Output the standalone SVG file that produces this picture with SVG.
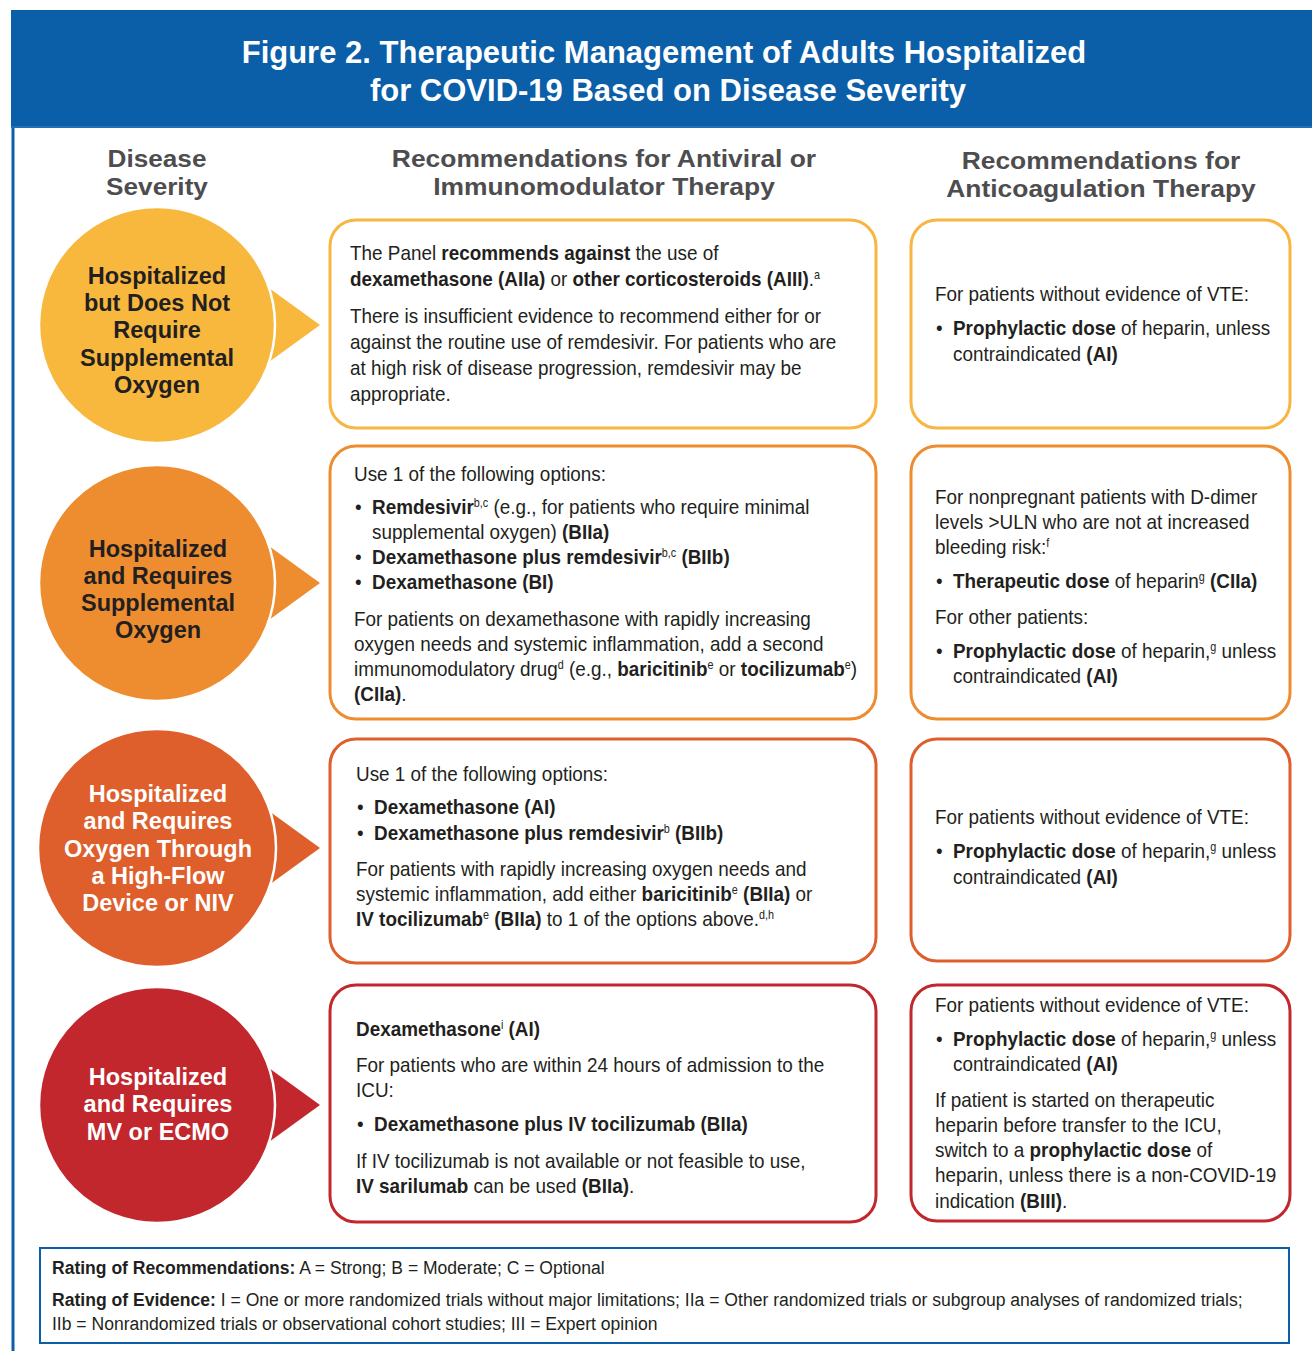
<svg xmlns="http://www.w3.org/2000/svg" width="1312" height="1351" viewBox="0 0 1312 1351">
<style>
.t{font-family:"Liberation Sans",Arial,Helvetica,sans-serif;font-size:21px;fill:#231f20}
.b{font-weight:bold}
.ct{font-family:"Liberation Sans",Arial,Helvetica,sans-serif;font-size:23.5px;font-weight:bold;text-anchor:middle}
.dk{fill:#231f20}
.wt{fill:#ffffff}
.ch{font-family:"Liberation Sans",Arial,Helvetica,sans-serif;font-size:24px;font-weight:bold;fill:#4d4d4f;text-anchor:middle}
.ttl{font-family:"Liberation Sans",Arial,Helvetica,sans-serif;font-size:31px;font-weight:bold;fill:#ffffff;text-anchor:middle}
.box{fill:#ffffff;stroke-width:3}
.circ{stroke:#ffffff;stroke-width:2.5}
.ft{font-family:"Liberation Sans",Arial,Helvetica,sans-serif;font-size:19px;fill:#231f20}
</style>
<rect x="0" y="0" width="1312" height="1351" fill="#ffffff"/>
<g id="header">
<rect x="11" y="10" width="1301" height="118" fill="#0b5ea8"/>
<line x1="11" y1="127" x2="1312" y2="127" stroke="#3f82c0" stroke-width="1"/>
<text class="ttl" x="664" y="63">Figure 2. Therapeutic Management of Adults Hospitalized</text>
<text class="ttl" x="668" y="101">for COVID-19 Based on Disease Severity</text>
</g>
<line x1="13" y1="128" x2="13" y2="1351" stroke="#0b5ea8" stroke-width="3"/>
<g id="column-headers">
<g transform="translate(157 0) scale(1.09 1)">
<text class="ch" x="0" y="167">Disease</text>
<text class="ch" x="0" y="195">Severity</text>
</g>
<g transform="translate(604 0) scale(1.1 1)">
<text class="ch" x="0" y="167">Recommendations for Antiviral or</text>
<text class="ch" x="0" y="195">Immunomodulator Therapy</text>
</g>
<g transform="translate(1101 0) scale(1.1 1)">
<text class="ch" x="0" y="169">Recommendations for</text>
<text class="ch" x="0" y="197">Anticoagulation Therapy</text>
</g>
</g>
<g id="connectors">
<polygon points="262,283 320,325 262,367" fill="#f8b83d"/>
<polygon points="262,541 320,583 262,625" fill="#ee8d2f"/>
<polygon points="262,806 320,848 262,890" fill="#de5f2c"/>
<polygon points="262,1063 320,1105 262,1147" fill="#c1272d"/>
</g>
<g id="severity-1">
<circle class="circ" cx="157" cy="325" r="118" fill="#f8b83d"/>
<text class="ct dk" x="157" y="284">Hospitalized</text>
<text class="ct dk" x="157" y="311">but Does Not</text>
<text class="ct dk" x="157" y="338">Require</text>
<text class="ct dk" x="157" y="366">Supplemental</text>
<text class="ct dk" x="157" y="393">Oxygen</text>
</g>
<g id="severity-2">
<circle class="circ" cx="157" cy="583" r="118" fill="#ee8d2f"/>
<text class="ct dk" x="158" y="557">Hospitalized</text>
<text class="ct dk" x="158" y="584">and Requires</text>
<text class="ct dk" x="158" y="611">Supplemental</text>
<text class="ct dk" x="158" y="638">Oxygen</text>
</g>
<g id="severity-3">
<circle class="circ" cx="157" cy="848" r="119" fill="#de5f2c"/>
<text class="ct wt" x="158" y="802">Hospitalized</text>
<text class="ct wt" x="158" y="829">and Requires</text>
<text class="ct wt" x="158" y="857">Oxygen Through</text>
<text class="ct wt" x="158" y="884">a High-Flow</text>
<text class="ct wt" x="158" y="911">Device or NIV</text>
</g>
<g id="severity-4">
<circle class="circ" cx="157" cy="1105" r="118" fill="#c1272d"/>
<text class="ct wt" x="158" y="1085">Hospitalized</text>
<text class="ct wt" x="158" y="1112">and Requires</text>
<text class="ct wt" x="158" y="1140">MV or ECMO</text>
</g>
<g id="antiviral-1">
<rect class="box" x="330" y="220" width="546" height="208" rx="26" stroke="#f9b53f"/>
<g transform="translate(350 0) scale(0.9 1)">
<text class="t" x="0" y="260">The Panel <tspan class="b">recommends against</tspan> the use of</text>
<text class="t" x="0" y="286"><tspan class="b">dexamethasone (AIIa)</tspan> or <tspan class="b">other corticosteroids (AIII)</tspan>.<tspan font-size="12" baseline-shift="7">a</tspan></text>
<text class="t" x="0" y="323">There is insufficient evidence to recommend either for or</text>
<text class="t" x="0" y="349">against the routine use of remdesivir. For patients who are</text>
<text class="t" x="0" y="375">at high risk of disease progression, remdesivir may be</text>
<text class="t" x="0" y="401">appropriate.</text>
</g>
</g>
<g id="anticoag-1">
<rect class="box" x="911" y="220" width="379" height="208" rx="26" stroke="#f9b53f"/>
<g transform="translate(935 0) scale(0.9 1)">
<text class="t" x="0" y="301">For patients without evidence of VTE:</text>
<text class="t" x="1" y="335">•</text>
<text class="t" x="20" y="335"><tspan class="b">Prophylactic dose</tspan> of heparin, unless</text>
<text class="t" x="20" y="361">contraindicated <tspan class="b">(AI)</tspan></text>
</g>
</g>
<g id="antiviral-2">
<rect class="box" x="330" y="446" width="546" height="273" rx="26" stroke="#ee8d2f"/>
<g transform="translate(354 0) scale(0.9 1)">
<text class="t" x="0" y="481">Use 1 of the following options:</text>
<text class="t" x="1" y="514">•</text>
<text class="t" x="20" y="514"><tspan class="b">Remdesivir</tspan><tspan font-size="12" baseline-shift="7">b,c</tspan> (e.g., for patients who require minimal</text>
<text class="t" x="20" y="539">supplemental oxygen) <tspan class="b">(BIIa)</tspan></text>
<text class="t" x="1" y="564">•</text>
<text class="t" x="20" y="564"><tspan class="b">Dexamethasone plus remdesivir</tspan><tspan font-size="12" baseline-shift="7">b,c</tspan><tspan class="b"> (BIIb)</tspan></text>
<text class="t" x="1" y="589">•</text>
<text class="t b" x="20" y="589">Dexamethasone (BI)</text>
<text class="t" x="0" y="626">For patients on dexamethasone with rapidly increasing</text>
<text class="t" x="0" y="651">oxygen needs and systemic inflammation, add a second</text>
<text class="t" x="0" y="676">immunomodulatory drug<tspan font-size="12" baseline-shift="7">d</tspan> (e.g., <tspan class="b">baricitinib</tspan><tspan font-size="12" baseline-shift="7">e</tspan> or <tspan class="b">tocilizumab</tspan><tspan font-size="12" baseline-shift="7">e</tspan>)</text>
<text class="t" x="0" y="701"><tspan class="b">(CIIa)</tspan>.</text>
</g>
</g>
<g id="anticoag-2">
<rect class="box" x="911" y="446" width="379" height="273" rx="26" stroke="#ee8d2f"/>
<g transform="translate(935 0) scale(0.9 1)">
<text class="t" x="0" y="504">For nonpregnant patients with D-dimer</text>
<text class="t" x="0" y="529">levels &gt;ULN who are not at increased</text>
<text class="t" x="0" y="554">bleeding risk:<tspan font-size="12" baseline-shift="7">f</tspan></text>
<text class="t" x="1" y="588">•</text>
<text class="t" x="20" y="588"><tspan class="b">Therapeutic dose</tspan> of heparin<tspan font-size="12" baseline-shift="7">g</tspan><tspan class="b"> (CIIa)</tspan></text>
<text class="t" x="0" y="624">For other patients:</text>
<text class="t" x="1" y="658">•</text>
<text class="t" x="20" y="658"><tspan class="b">Prophylactic dose</tspan> of heparin,<tspan font-size="12" baseline-shift="7">g</tspan> unless</text>
<text class="t" x="20" y="683">contraindicated <tspan class="b">(AI)</tspan></text>
</g>
</g>
<g id="antiviral-3">
<rect class="box" x="330" y="739" width="546" height="224" rx="26" stroke="#de5f2c"/>
<g transform="translate(356 0) scale(0.9 1)">
<text class="t" x="0" y="781">Use 1 of the following options:</text>
<text class="t" x="1" y="814">•</text>
<text class="t b" x="20" y="814">Dexamethasone (AI)</text>
<text class="t" x="1" y="840">•</text>
<text class="t" x="20" y="840"><tspan class="b">Dexamethasone plus remdesivir</tspan><tspan font-size="12" baseline-shift="7">b</tspan><tspan class="b"> (BIIb)</tspan></text>
<text class="t" x="0" y="876">For patients with rapidly increasing oxygen needs and</text>
<text class="t" x="0" y="901">systemic inflammation, add either <tspan class="b">baricitinib</tspan><tspan font-size="12" baseline-shift="7">e</tspan><tspan class="b"> (BIIa)</tspan> or</text>
<text class="t" x="0" y="926"><tspan class="b">IV tocilizumab</tspan><tspan font-size="12" baseline-shift="7">e</tspan><tspan class="b"> (BIIa)</tspan> to 1 of the options above.<tspan font-size="12" baseline-shift="7">d,h</tspan></text>
</g>
</g>
<g id="anticoag-3">
<rect class="box" x="911" y="739" width="379" height="222" rx="26" stroke="#de5f2c"/>
<g transform="translate(935 0) scale(0.9 1)">
<text class="t" x="0" y="824">For patients without evidence of VTE:</text>
<text class="t" x="1" y="858">•</text>
<text class="t" x="20" y="858"><tspan class="b">Prophylactic dose</tspan> of heparin,<tspan font-size="12" baseline-shift="7">g</tspan> unless</text>
<text class="t" x="20" y="884">contraindicated <tspan class="b">(AI)</tspan></text>
</g>
</g>
<g id="antiviral-4">
<rect class="box" x="330" y="985" width="546" height="237" rx="26" stroke="#c1272d"/>
<g transform="translate(356 0) scale(0.9 1)">
<text class="t" x="0" y="1036"><tspan class="b">Dexamethasone</tspan><tspan font-size="12" baseline-shift="7">i</tspan><tspan class="b"> (AI)</tspan></text>
<text class="t" x="0" y="1072">For patients who are within 24 hours of admission to the</text>
<text class="t" x="0" y="1097">ICU:</text>
<text class="t" x="1" y="1131">•</text>
<text class="t b" x="20" y="1131">Dexamethasone plus IV tocilizumab (BIIa)</text>
<text class="t" x="0" y="1168">If IV tocilizumab is not available or not feasible to use,</text>
<text class="t" x="0" y="1193"><tspan class="b">IV sarilumab</tspan> can be used <tspan class="b">(BIIa)</tspan>.</text>
</g>
</g>
<g id="anticoag-4">
<rect class="box" x="911" y="985" width="379" height="236" rx="26" stroke="#c1272d"/>
<g transform="translate(935 0) scale(0.9 1)">
<text class="t" x="0" y="1012">For patients without evidence of VTE:</text>
<text class="t" x="1" y="1046">•</text>
<text class="t" x="20" y="1046"><tspan class="b">Prophylactic dose</tspan> of heparin,<tspan font-size="12" baseline-shift="7">g</tspan> unless</text>
<text class="t" x="20" y="1071">contraindicated <tspan class="b">(AI)</tspan></text>
<text class="t" x="0" y="1107">If patient is started on therapeutic</text>
<text class="t" x="0" y="1132">heparin before transfer to the ICU,</text>
<text class="t" x="0" y="1157">switch to a <tspan class="b">prophylactic dose</tspan> of</text>
<text class="t" x="0" y="1182">heparin, unless there is a non-COVID-19</text>
<text class="t" x="0" y="1208">indication <tspan class="b">(BIII)</tspan>.</text>
</g>
</g>
<g id="legend">
<rect x="40" y="1248" width="1249" height="95" fill="#ffffff" stroke="#0b5ea8" stroke-width="2"/>
<g transform="translate(52 0) scale(0.88 1)">
<text class="ft" x="0" y="1274" textLength="628" lengthAdjust="spacingAndGlyphs"><tspan class="b">Rating of Recommendations:</tspan> A = Strong; B = Moderate; C = Optional</text>
<text class="ft" x="0" y="1306" textLength="1353" lengthAdjust="spacingAndGlyphs"><tspan class="b">Rating of Evidence:</tspan> I = One or more randomized trials without major limitations; IIa = Other randomized trials or subgroup analyses of randomized trials;</text>
<text class="ft" x="0" y="1330" textLength="688" lengthAdjust="spacingAndGlyphs">IIb = Nonrandomized trials or observational cohort studies; III = Expert opinion</text>
</g>
</g>
</svg>
